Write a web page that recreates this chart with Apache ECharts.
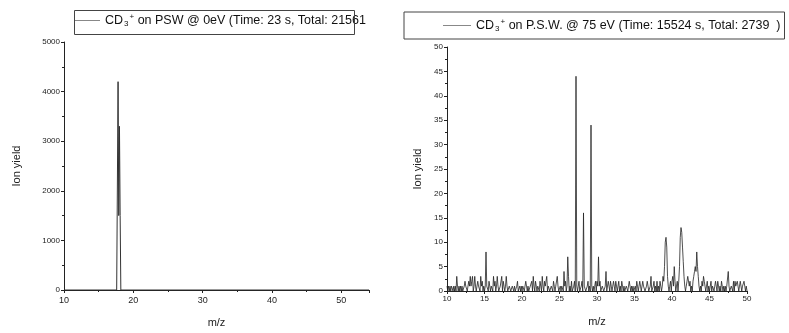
<!DOCTYPE html>
<html><head><meta charset="utf-8">
<script src="https://cdn.jsdelivr.net/npm/echarts@6/dist/echarts.min.js"></script>
<style>html,body{margin:0;padding:0;background:#fff}#c{width:789px;height:333px}</style>
</head><body><div id="c"></div>
<script>
// Left spectrum: CD3+ on PSW @ 0eV
const leftMz    = [10, 17.6, 17.7, 17.8, 17.9, 18.0, 18.1, 18.2, 18.3, 54];
const leftYield = [0,  0,    0,    4200, 1500, 3300, 1500, 0,    0,    0];
// Right spectrum: CD3+ on P.S.W. @ 75 eV, m/z 10..50 step 0.1 (one row per m/z unit)
const rightStart = 10, rightStep = 0.1;
const rightYield = [
  1,0,1,0,1,0,1,1,0,1,
  0,1,0,3,1,0,1,0,1,0,
  1,0,0,1,2,1,1,0,0,2,
  1,3,1,2,3,0,1,3,1,0,
  0,2,1,1,0,3,1,2,0,1,
  0,1,8,1,1,0,2,1,0,1,
  1,0,3,1,2,0,1,3,1,0,
  0,1,1,3,0,2,1,0,1,3,
  1,0,0,1,1,0,0,1,1,0,
  1,0,0,1,2,0,0,1,0,1,
  0,1,1,0,0,2,1,0,1,0,
  0,1,1,2,0,3,1,0,2,1,
  0,1,1,0,2,1,0,3,1,0,
  2,1,1,3,0,1,1,0,0,1,
  1,0,2,1,0,1,1,3,1,0,
  0,1,0,1,1,0,4,1,2,0,
  1,7,3,0,1,0,2,0,0,1,
  2,0,44,1,0,1,2,0,0,1,
  2,0,16,1,1,0,0,1,2,0,
  1,0,34,1,0,1,0,1,2,0,
  2,1,7,1,2,0,0,1,1,0,
  0,1,4,0,0,2,1,0,2,1,
  0,1,2,1,0,2,1,0,1,2,
  0,1,0,2,1,0,1,0,0,1,
  1,0,0,2,1,0,1,0,1,0,
  0,1,0,2,1,0,1,2,1,0,
  0,2,1,1,0,0,1,2,1,0,
  0,1,3,0,0,1,2,0,1,0,
  2,0,1,0,2,1,0,1,3,2,
  5,10,11,9,3,1,0,1,2,0,
  2,3,1,5,2,0,1,2,0,2,
  5,11,13,12,9,6,3,1,0,1,
  2,3,3,1,2,0,1,0,2,3,
  4,5,4,8,5,3,1,0,1,0,
  2,1,3,2,1,0,1,2,0,1,
  0,1,2,0,1,1,0,1,2,1,
  0,2,1,0,1,0,2,1,0,1,
  0,1,0,1,1,4,1,0,0,1,
  1,0,2,0,2,1,1,2,1,0,
  1,2,2,0,1,1,2,1,0,1,
  0
];
const leftLegend  = 'CD{sub|3}{sup|+} on PSW @ 0eV (Time: 23 s, Total: 21561';
const rightLegend = 'CD{sub|3}{sup|+} on P.S.W. @ 75 eV (Time: 15524 s, Total: 2739  )';

const leftData = leftMz.map((m, i) => [m, leftYield[i]]);
const rightData = rightYield.map((v, i) => [+(rightStart + i * rightStep).toFixed(1), v]);

const FONT = 'Liberation Sans';
const rich = {
  sub: {fontSize: 8, fontFamily: FONT, color: '#111', padding: [7, 0, 0, 1]},
  sup: {fontSize: 8, fontFamily: FONT, color: '#111', padding: [0, 0, 7, 1]}
};
function axisCommon(extra) {
  return Object.assign({
    type: 'value',
    axisLine: {show: true, lineStyle: {color: '#222', width: 1}},
    axisTick: {show: true, inside: false, length: 3, lineStyle: {color: '#222'}},
    minorTick: {show: true, splitNumber: 2, length: 2, lineStyle: {color: '#222'}},
    splitLine: {show: false},
    axisLabel: {fontFamily: FONT, fontSize: 8, color: '#222', margin: 4, formatter: v => String(v)},
    nameTextStyle: {fontFamily: FONT, fontSize: 11, color: '#222'}
  }, extra);
}
const chart = echarts.init(document.getElementById('c'), null, {renderer: 'canvas'});
chart.setOption({
  animation: false,
  backgroundColor: '#fff',
  graphic: [
    {type: 'rect', left: 72, top: 8, z: 100, silent: true,
      shape: {width: 280, height: 24},
      style: {fill: 'none', stroke: '#444', lineWidth: 1}}
  ],
  grid: [
    {left: 64, right: 420, top: 42, bottom: 38},
    {left: 447, right: 42, top: 47, bottom: 42}
  ],
  xAxis: [
    axisCommon({gridIndex: 0, min: 10, max: 54, interval: 10, name: 'm/z', nameLocation: 'middle', nameGap: 27,
      axisLabel: {fontFamily: FONT, fontSize: 9, color: '#222', margin: 6,
        formatter: v => (v % 10 === 0 ? String(v) : '')}}),
    axisCommon({gridIndex: 1, min: 10, max: 50, interval: 5, name: 'm/z', nameLocation: 'middle', nameGap: 25})
  ],
  yAxis: [
    axisCommon({gridIndex: 0, min: 0, max: 5000, interval: 1000, name: 'Ion yield', nameLocation: 'middle', nameGap: 42}),
    axisCommon({gridIndex: 1, min: 0, max: 50, interval: 5, name: 'Ion yield', nameLocation: 'middle', nameGap: 24})
  ],
  legend: [
    {data: ['L'], left: 75, top: 8, icon: 'rect', itemWidth: 25, itemHeight: 1,
      padding: [5, 0, 5, 0],
      formatter: () => leftLegend,
      textStyle: {fontFamily: FONT, fontSize: 12.5, color: '#111', rich: rich}},
    {data: ['R'], left: 404, top: 12, icon: 'rect', itemWidth: 28, itemHeight: 1,
      padding: [6, 4, 6, 39], borderColor: '#444', borderWidth: 1,
      formatter: () => rightLegend,
      textStyle: {fontFamily: FONT, fontSize: 12.5, color: '#111', rich: rich}}
  ],
  series: [
    {name: 'L', type: 'line', xAxisIndex: 0, yAxisIndex: 0, data: leftData, showSymbol: false,
      lineStyle: {color: '#333', width: 1}, itemStyle: {color: '#888'}},
    {name: 'R', type: 'line', xAxisIndex: 1, yAxisIndex: 1, data: rightData, showSymbol: false,
      lineStyle: {color: '#222', width: 0.8}, itemStyle: {color: '#888'}}
  ]
});
</script></body></html>
